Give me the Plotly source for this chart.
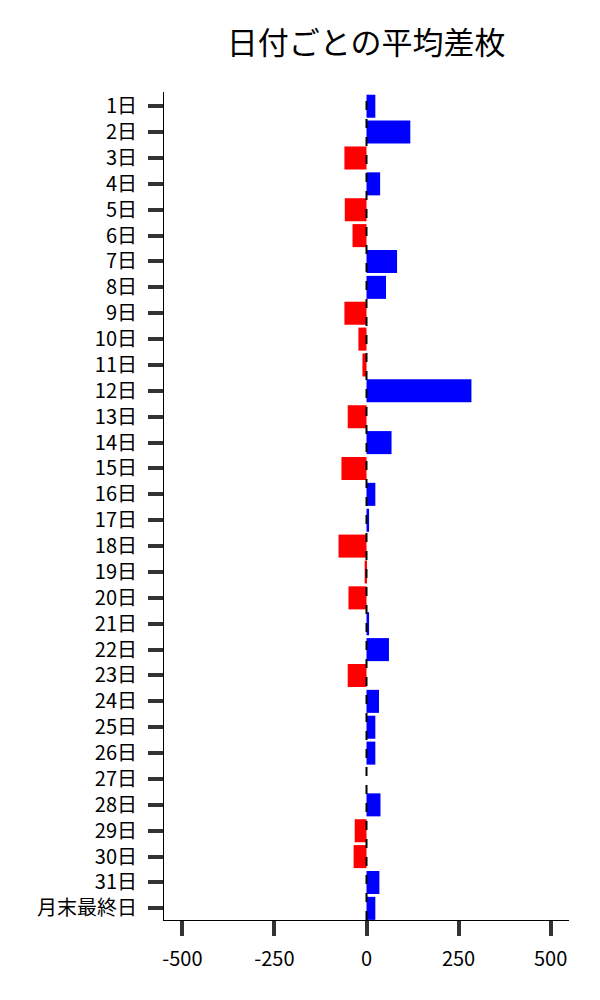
import plotly.graph_objects as go

days = [f"{i}日" for i in range(1, 32)] + ["月末最終日"]
values = [24, 119, -60, 37, -59, -38, 83, 53, -60, -22, -11, 285, -51, 68, -68, 24, 7,
          -76, -5, -49, 7, 61, -51, 34, 24, 24, 0, 38, -32, -35, 35, 24]
colors = ["#0000ff" if v >= 0 else "#ff0000" for v in values]

font = "Noto Sans CJK JP"

fig = go.Figure()
fig.add_trace(go.Bar(
    x=values, y=days, orientation="h",
    marker=dict(color=colors, line=dict(width=0)),
    width=0.89,
))
fig.add_shape(type="line", x0=0, x1=0, xref="x", y0=0, y1=1, yref="paper",
              line=dict(color="black", width=2, dash="dash"), layer="above")

fig.update_layout(
    width=592, height=992,
    margin=dict(l=156, r=31, t=84, b=80),
    plot_bgcolor="white", paper_bgcolor="white",
    font=dict(family=font, size=20, color="black"),
    title=dict(text="日付ごとの平均差枚", x=0.605, xanchor="center", y=0.9647, yanchor="middle",
               font=dict(family=font, size=31, color="black")),
    showlegend=False,
    xaxis=dict(range=[-550, 550], tickvals=[-500, -250, 0, 250, 500],
               ticktext=["-500", "-250", "0", "250", "500"],
               showgrid=False, zeroline=False, showline=True, linecolor="black", linewidth=1,
               ticks="outside", ticklen=15, tickwidth=4, tickcolor="#333",
               ticklabelstandoff=6,
               tickfont=dict(family=font, size=20)),
    yaxis=dict(categoryorder="array", categoryarray=days, range=[31.45, -0.55],
               showgrid=False, zeroline=False, showline=True, linecolor="black", linewidth=1,
               ticks="outside", ticklen=15, tickwidth=4, tickcolor="#333",
               ticklabelstandoff=7,
               tickfont=dict(family=font, size=20)),
)

fig.write_html("out.html")
